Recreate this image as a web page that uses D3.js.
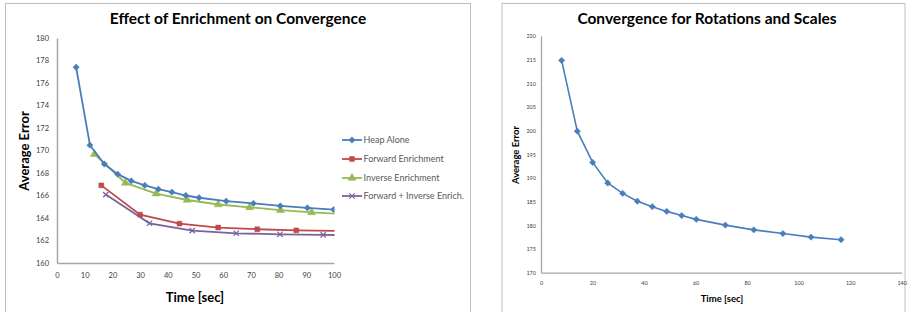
<!DOCTYPE html>
<html><head><meta charset="utf-8">
<script src="https://cdn.jsdelivr.net/npm/d3@7"></script>
<style>body{margin:0;background:#fff}svg{display:block}text{font-family:Lato,"Open Sans",sans-serif}</style>
</head><body><svg id="c" width="913" height="312"></svg>
<script>
// ---- Left chart data ----
const leftTitle = "Effect of Enrichment on Convergence";
const leftXTicks = [0,10,20,30,40,50,60,70,80,90,100];
const leftYTicks = [160,162,164,166,168,170,172,174,176,178,180];
const heapX = [6.9,11.9,17.1,21.9,26.8,31.7,36.6,41.5,46.5,51.3,61.1,70.9,80.6,90.4,99.9];
const heapY = [177.4,170.47,168.8,167.9,167.3,166.9,166.56,166.3,166.0,165.8,165.5,165.3,165.07,164.9,164.75];
const fwdX = [16.0,30.0,44.2,58.2,72.3,86.4,100.5];
const fwdY = [166.9,164.3,163.5,163.15,163.0,162.9,162.85];
const invX = [13.5,24.7,35.8,47.0,58.2,69.5,80.7,91.9,103.1];
const invY = [169.67,167.12,166.17,165.6,165.2,164.95,164.7,164.5,164.35];
const bothX = [17.6,33.4,48.8,64.7,80.5,96.1,111.7];
const bothY = [166.08,163.53,162.88,162.64,162.55,162.5,162.46];
const seriesNames = ["Heap Alone","Forward Enrichment","Inverse Enrichment","Forward + Inverse Enrich."];
// ---- Right chart data ----
const rightTitle = "Convergence for Rotations and Scales";
const rightXTicks = [0,20,40,60,80,100,120,140];
const rightYTicks = [170,175,180,185,190,195,200,205,210,215,220];
const rotX = [8.0,14.1,20.05,25.9,31.7,37.4,43.2,48.8,54.6,60.25,71.55,82.6,93.9,104.8,116.45];
const rotY = [214.85,199.9,193.3,188.95,186.75,185.1,183.95,182.95,182.07,181.27,180.05,179.05,178.27,177.52,176.97];

const svg = d3.select("#c");
const colors = ["#4a7ebb","#be4b48","#98b954","#7d60a0"];
const axisColor = "#a6a6a6";
const tickColor = "#404040";

// borders
svg.append("rect").attr("x",5.5).attr("y",3.5).attr("width",465).attr("height",320).attr("fill","none").attr("stroke","#bfbfbf").attr("stroke-width",1);
svg.append("rect").attr("x",502).attr("y",3.5).attr("width",403).attr("height",320).attr("fill","none").attr("stroke","#bfbfbf").attr("stroke-width",1);

function symbolFor(i){return [d3.symbolSquare,d3.symbolSquare,d3.symbolTriangle,d3.symbolX][i];}
function symSize(i){return [20,24,28,20][i];}
function rot(i){return i===0?" rotate(45)":"";}

// ---- Left chart ----
{
  const x = d3.scaleLinear().domain([0,100]).range([57,334]);
  const y = d3.scaleLinear().domain([160,180]).range([263,38]);
  const g = svg.append("g");
  g.append("text").attr("x",238).attr("y",24).attr("text-anchor","middle").attr("font-size",15.5).attr("font-weight","bold").attr("fill","#000").text(leftTitle);
  const ya = g.append("g").attr("transform","translate(57,0)").call(d3.axisLeft(y).tickValues(leftYTicks).tickSize(0).tickPadding(8));
  const xa = g.append("g").attr("transform","translate(0,263)").call(d3.axisBottom(x).tickValues(leftXTicks).tickSize(0).tickPadding(10));
  [ya,xa].forEach(a=>{a.select(".domain").attr("stroke",axisColor).attr("stroke-width",1.5);a.selectAll("text").attr("font-size",7.5).attr("fill",tickColor).attr("font-family","Lato,sans-serif");});
  g.append("text").attr("transform","translate(29,151) rotate(-90)").attr("text-anchor","middle").attr("font-size",13).attr("font-weight","bold").text("Average Error");
  g.append("text").attr("x",195).attr("y",302).attr("text-anchor","middle").attr("font-size",13).attr("font-weight","bold").text("Time [sec]");
  svg.append("clipPath").attr("id","clipL").append("rect").attr("x",50).attr("y",30).attr("width",284.5).attr("height",240);
  const data = [[heapX,heapY],[fwdX,fwdY],[invX,invY],[bothX,bothY]];
  const line = d3.line().x(d=>x(d[0])).y(d=>y(d[1]));
  const order = [3,1,2,0];
  order.forEach(i=>{
    const pts = data[i][0].map((v,k)=>[v,data[i][1][k]]);
    const sg = g.append("g").attr("clip-path","url(#clipL)");
    sg.append("path").attr("d",line(pts)).attr("fill","none").attr("stroke",colors[i]).attr("stroke-width",1.8);
    const sym = d3.symbol().type(symbolFor(i)).size(symSize(i));
    sg.selectAll(null).data(pts.filter(p=>p[0]<=100)).join("path").attr("transform",p=>`translate(${x(p[0])},${y(p[1])})${rot(i)}`).attr("d",sym)
      .attr("fill",i===3?"none":colors[i]).attr("stroke",colors[i]).attr("stroke-width",i===3?1.2:0.5);
  });
  // legend
  const ly = [140,159,178,196];
  seriesNames.forEach((n,i)=>{
    const lg = g.append("g");
    lg.append("line").attr("x1",342).attr("x2",362).attr("y1",ly[i]).attr("y2",ly[i]).attr("stroke",colors[i]).attr("stroke-width",1.8);
    lg.append("path").attr("transform",`translate(352,${ly[i]})${rot(i)}`).attr("d",d3.symbol().type(symbolFor(i)).size(symSize(i)))
      .attr("fill",i===3?"none":colors[i]).attr("stroke",colors[i]).attr("stroke-width",i===3?1.2:0.5);
    lg.append("text").attr("x",363.5).attr("y",ly[i]+3).attr("font-size",9).attr("fill","#595959").text(n);
  });
}

// ---- Right chart ----
{
  const x = d3.scaleLinear().domain([0,140]).range([541,901.7]);
  const y = d3.scaleLinear().domain([170,220]).range([272.7,36]);
  const g = svg.append("g");
  g.append("text").attr("x",707).attr("y",24).attr("text-anchor","middle").attr("font-size",15.5).attr("font-weight","bold").attr("fill","#000").text(rightTitle);
  const ya = g.append("g").attr("transform","translate(541,0)").call(d3.axisLeft(y).tickValues(rightYTicks).tickSize(0).tickPadding(5));
  const xa = g.append("g").attr("transform","translate(0,272.7)").call(d3.axisBottom(x).tickValues(rightXTicks).tickSize(0).tickPadding(8));
  [ya,xa].forEach(a=>{a.select(".domain").attr("stroke",axisColor).attr("stroke-width",1.3);a.selectAll("text").attr("font-size",5.5).attr("fill",tickColor).attr("font-family","Lato,sans-serif");});
  g.append("text").attr("transform","translate(519,155) rotate(-90)").attr("text-anchor","middle").attr("font-size",9.5).attr("font-weight","bold").text("Average Error");
  g.append("text").attr("x",722).attr("y",302).attr("text-anchor","middle").attr("font-size",9.5).attr("font-weight","bold").text("Time [sec]");
  const pts = rotX.map((v,k)=>[v,rotY[k]]);
  g.append("path").attr("d",d3.line().x(d=>x(d[0])).y(d=>y(d[1]))(pts)).attr("fill","none").attr("stroke",colors[0]).attr("stroke-width",1.6);
  g.selectAll(null).data(pts).join("path").attr("transform",p=>`translate(${x(p[0])},${y(p[1])}) rotate(45)`).attr("d",d3.symbol().type(d3.symbolSquare).size(20))
    .attr("fill",colors[0]).attr("stroke",colors[0]).attr("stroke-width",0.5);
}
</script></body></html>
